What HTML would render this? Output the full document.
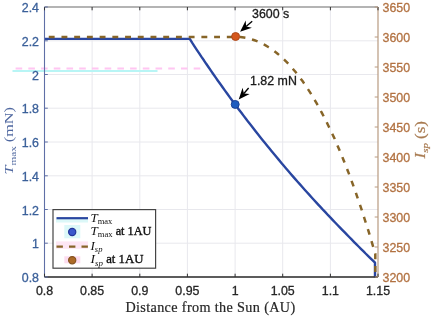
<!DOCTYPE html>
<html><head><meta charset="utf-8"><style>
html,body{margin:0;padding:0;background:#fff;}
svg{display:block;filter:blur(0.4px);}
.s{font-family:"Liberation Sans",sans-serif;font-size:12.4px;stroke-width:0.3px;}
.m{font-family:"Liberation Serif",serif;font-size:13px;}
</style></head><body>
<svg width="433" height="317" viewBox="0 0 433 317">
<rect x="0" y="0" width="433" height="317" fill="#fff"/>
<line x1="92.1" y1="7.0" x2="92.1" y2="277.0" stroke="#e8e8ed" stroke-width="1"/>
<line x1="139.8" y1="7.0" x2="139.8" y2="277.0" stroke="#e8e8ed" stroke-width="1"/>
<line x1="187.4" y1="7.0" x2="187.4" y2="277.0" stroke="#e8e8ed" stroke-width="1"/>
<line x1="235.1" y1="7.0" x2="235.1" y2="277.0" stroke="#e8e8ed" stroke-width="1"/>
<line x1="282.7" y1="7.0" x2="282.7" y2="277.0" stroke="#e8e8ed" stroke-width="1"/>
<line x1="330.4" y1="7.0" x2="330.4" y2="277.0" stroke="#e8e8ed" stroke-width="1"/>
<line x1="44.5" y1="243.2" x2="378.0" y2="243.2" stroke="#e8e8ed" stroke-width="1"/>
<line x1="44.5" y1="209.5" x2="378.0" y2="209.5" stroke="#e8e8ed" stroke-width="1"/>
<line x1="44.5" y1="175.8" x2="378.0" y2="175.8" stroke="#e8e8ed" stroke-width="1"/>
<line x1="44.5" y1="142.0" x2="378.0" y2="142.0" stroke="#e8e8ed" stroke-width="1"/>
<line x1="44.5" y1="108.2" x2="378.0" y2="108.2" stroke="#e8e8ed" stroke-width="1"/>
<line x1="44.5" y1="74.5" x2="378.0" y2="74.5" stroke="#e8e8ed" stroke-width="1"/>
<line x1="44.5" y1="40.8" x2="378.0" y2="40.8" stroke="#e8e8ed" stroke-width="1"/>
<line x1="12.5" y1="71" x2="157.5" y2="71" stroke="#b8f5f5" stroke-width="2"/>
<line x1="12.5" y1="68.6" x2="204" y2="68.6" stroke="#ffc6f2" stroke-width="2" stroke-dasharray="6.6 6.12" stroke-dashoffset="-3.1"/>
<polyline points="44.5,38.9 189.8,38.9 192.1,42.7 194.5,46.3 196.8,49.8 199.2,53.4 201.5,56.9 203.9,60.3 206.2,63.8 208.6,67.2 210.9,70.6 213.2,74.0 215.6,77.4 217.9,80.7 220.3,84.0 222.6,87.3 225.0,90.6 227.3,93.8 229.7,97.1 232.0,100.3 234.3,103.4 236.7,106.6 239.0,109.7 241.4,112.8 243.7,115.9 246.1,119.0 248.4,122.1 250.8,125.1 253.1,128.1 255.4,131.1 257.8,134.1 260.1,137.0 262.5,139.9 264.8,142.8 267.2,145.7 269.5,148.6 271.9,151.5 274.2,154.3 276.5,157.1 278.9,159.9 281.2,162.7 283.6,165.5 285.9,168.2 288.3,171.0 290.6,173.7 292.9,176.4 295.3,179.1 297.6,181.7 300.0,184.4 302.3,187.0 304.7,189.7 307.0,192.3 309.4,194.9 311.7,197.5 314.0,200.0 316.4,202.6 318.7,205.1 321.1,207.6 323.4,210.2 325.8,212.7 328.1,215.2 330.5,217.6 332.8,220.1 335.1,222.5 337.5,225.0 339.8,227.4 342.2,229.8 344.5,232.2 346.9,234.6 349.2,237.0 351.6,239.4 353.9,241.8 356.2,244.1 358.6,246.5 360.9,248.8 363.3,251.1 365.6,253.5 368.0,255.8 370.3,258.1 372.7,260.4 375.0,262.7 375.0,277.5" fill="none" stroke="#2946a0" stroke-width="2.4" stroke-linejoin="round"/>
<polyline points="44.5,36.9 235.0,36.9 236.8,36.9 238.6,37.0 240.3,37.1 242.1,37.3 243.9,37.6 245.7,37.9 247.4,38.2 249.2,38.7 251.0,39.1 252.8,39.7 254.5,40.3 256.3,40.9 258.1,41.6 259.9,42.4 261.6,43.3 263.4,44.2 265.2,45.1 267.0,46.2 268.7,47.3 270.5,48.4 272.3,49.6 274.1,50.9 275.8,52.3 277.6,53.7 279.4,55.2 281.2,56.8 283.0,58.4 284.7,60.1 286.5,61.9 288.3,63.7 290.1,65.6 291.8,67.6 293.6,69.7 295.4,71.8 297.2,74.0 298.9,76.3 300.7,78.7 302.5,81.1 304.3,83.6 306.0,86.2 307.8,88.9 309.6,91.6 311.4,94.4 313.1,97.4 314.9,100.3 316.7,103.4 318.5,106.5 320.2,109.8 322.0,113.1 323.8,116.5 325.6,120.0 327.3,123.5 329.1,127.2 330.9,130.9 332.7,134.7 334.5,138.6 336.2,142.6 338.0,146.7 339.8,150.9 341.6,155.1 343.3,159.5 345.1,163.9 346.9,168.5 348.7,173.1 350.4,177.8 352.2,182.6 354.0,187.5 355.8,192.5 357.5,197.6 359.3,202.8 361.1,208.1 362.9,213.5 364.6,219.0 366.4,224.5 368.2,230.2 370.0,236.0 371.7,241.9 373.5,247.8 375.3,253.9 375.3,277.5" fill="none" stroke="#876528" stroke-width="2.5" stroke-dasharray="5.9 6.82" stroke-dashoffset="-4.25"/>
<circle cx="235.2" cy="104.4" r="4" fill="#1f5cbf" stroke="#1a3c8e" stroke-width="0.9"/>
<circle cx="235.6" cy="36.5" r="4" fill="#d4561c" stroke="#a84414" stroke-width="0.9"/>
<line x1="44.5" y1="7.0" x2="378.0" y2="7.0" stroke="#6b6b6b" stroke-width="1.2"/>
<line x1="44.5" y1="277.0" x2="378.0" y2="277.0" stroke="#262626" stroke-width="1.6"/>
<line x1="44.5" y1="7.0" x2="44.5" y2="277.0" stroke="#5f6fa6" stroke-width="1.1"/>
<line x1="378.0" y1="7.0" x2="378.0" y2="277.0" stroke="#b89a80" stroke-width="1.2"/>
<line x1="44.5" y1="277.0" x2="44.5" y2="273.7" stroke="#333" stroke-width="1"/>
<line x1="44.5" y1="7.0" x2="44.5" y2="10.3" stroke="#333" stroke-width="1"/>
<line x1="92.1" y1="277.0" x2="92.1" y2="273.7" stroke="#333" stroke-width="1"/>
<line x1="92.1" y1="7.0" x2="92.1" y2="10.3" stroke="#333" stroke-width="1"/>
<line x1="139.8" y1="277.0" x2="139.8" y2="273.7" stroke="#333" stroke-width="1"/>
<line x1="139.8" y1="7.0" x2="139.8" y2="10.3" stroke="#333" stroke-width="1"/>
<line x1="187.4" y1="277.0" x2="187.4" y2="273.7" stroke="#333" stroke-width="1"/>
<line x1="187.4" y1="7.0" x2="187.4" y2="10.3" stroke="#333" stroke-width="1"/>
<line x1="235.1" y1="277.0" x2="235.1" y2="273.7" stroke="#333" stroke-width="1"/>
<line x1="235.1" y1="7.0" x2="235.1" y2="10.3" stroke="#333" stroke-width="1"/>
<line x1="282.7" y1="277.0" x2="282.7" y2="273.7" stroke="#333" stroke-width="1"/>
<line x1="282.7" y1="7.0" x2="282.7" y2="10.3" stroke="#333" stroke-width="1"/>
<line x1="330.4" y1="277.0" x2="330.4" y2="273.7" stroke="#333" stroke-width="1"/>
<line x1="330.4" y1="7.0" x2="330.4" y2="10.3" stroke="#333" stroke-width="1"/>
<line x1="378.0" y1="277.0" x2="378.0" y2="273.7" stroke="#333" stroke-width="1"/>
<line x1="378.0" y1="7.0" x2="378.0" y2="10.3" stroke="#333" stroke-width="1"/>
<line x1="44.5" y1="277.0" x2="47.8" y2="277.0" stroke="#5f6fa6" stroke-width="1"/>
<line x1="44.5" y1="243.2" x2="47.8" y2="243.2" stroke="#5f6fa6" stroke-width="1"/>
<line x1="44.5" y1="209.5" x2="47.8" y2="209.5" stroke="#5f6fa6" stroke-width="1"/>
<line x1="44.5" y1="175.8" x2="47.8" y2="175.8" stroke="#5f6fa6" stroke-width="1"/>
<line x1="44.5" y1="142.0" x2="47.8" y2="142.0" stroke="#5f6fa6" stroke-width="1"/>
<line x1="44.5" y1="108.2" x2="47.8" y2="108.2" stroke="#5f6fa6" stroke-width="1"/>
<line x1="44.5" y1="74.5" x2="47.8" y2="74.5" stroke="#5f6fa6" stroke-width="1"/>
<line x1="44.5" y1="40.8" x2="47.8" y2="40.8" stroke="#5f6fa6" stroke-width="1"/>
<line x1="44.5" y1="7.0" x2="47.8" y2="7.0" stroke="#5f6fa6" stroke-width="1"/>
<line x1="378.0" y1="277.0" x2="374.7" y2="277.0" stroke="#b89a80" stroke-width="1"/>
<line x1="378.0" y1="247.0" x2="374.7" y2="247.0" stroke="#b89a80" stroke-width="1"/>
<line x1="378.0" y1="217.0" x2="374.7" y2="217.0" stroke="#b89a80" stroke-width="1"/>
<line x1="378.0" y1="187.0" x2="374.7" y2="187.0" stroke="#b89a80" stroke-width="1"/>
<line x1="378.0" y1="157.0" x2="374.7" y2="157.0" stroke="#b89a80" stroke-width="1"/>
<line x1="378.0" y1="127.0" x2="374.7" y2="127.0" stroke="#b89a80" stroke-width="1"/>
<line x1="378.0" y1="97.0" x2="374.7" y2="97.0" stroke="#b89a80" stroke-width="1"/>
<line x1="378.0" y1="67.0" x2="374.7" y2="67.0" stroke="#b89a80" stroke-width="1"/>
<line x1="378.0" y1="37.0" x2="374.7" y2="37.0" stroke="#b89a80" stroke-width="1"/>
<line x1="378.0" y1="7.0" x2="374.7" y2="7.0" stroke="#b89a80" stroke-width="1"/>
<text x="44.5" y="295.4" text-anchor="middle" class="s" fill="#262626" stroke="#262626">0.8</text>
<text x="92.1" y="295.4" text-anchor="middle" class="s" fill="#262626" stroke="#262626">0.85</text>
<text x="139.8" y="295.4" text-anchor="middle" class="s" fill="#262626" stroke="#262626">0.9</text>
<text x="187.4" y="295.4" text-anchor="middle" class="s" fill="#262626" stroke="#262626">0.95</text>
<text x="235.1" y="295.4" text-anchor="middle" class="s" fill="#262626" stroke="#262626">1</text>
<text x="282.7" y="295.4" text-anchor="middle" class="s" fill="#262626" stroke="#262626">1.05</text>
<text x="330.4" y="295.4" text-anchor="middle" class="s" fill="#262626" stroke="#262626">1.1</text>
<text x="378.0" y="295.4" text-anchor="middle" class="s" fill="#262626" stroke="#262626">1.15</text>
<text x="39" y="282.0" text-anchor="end" class="s" fill="#3b609a" stroke="#3b609a">0.8</text>
<text x="39" y="248.2" text-anchor="end" class="s" fill="#3b609a" stroke="#3b609a">1</text>
<text x="39" y="214.5" text-anchor="end" class="s" fill="#3b609a" stroke="#3b609a">1.2</text>
<text x="39" y="180.8" text-anchor="end" class="s" fill="#3b609a" stroke="#3b609a">1.4</text>
<text x="39" y="147.0" text-anchor="end" class="s" fill="#3b609a" stroke="#3b609a">1.6</text>
<text x="39" y="113.2" text-anchor="end" class="s" fill="#3b609a" stroke="#3b609a">1.8</text>
<text x="39" y="79.5" text-anchor="end" class="s" fill="#3b609a" stroke="#3b609a">2</text>
<text x="39" y="45.8" text-anchor="end" class="s" fill="#3b609a" stroke="#3b609a">2.2</text>
<text x="39" y="12.0" text-anchor="end" class="s" fill="#3b609a" stroke="#3b609a">2.4</text>
<text x="382.5" y="281.8" class="s" fill="#b27242" stroke="#b27242">3200</text>
<text x="382.5" y="251.8" class="s" fill="#b27242" stroke="#b27242">3250</text>
<text x="382.5" y="221.8" class="s" fill="#b27242" stroke="#b27242">3300</text>
<text x="382.5" y="191.8" class="s" fill="#b27242" stroke="#b27242">3350</text>
<text x="382.5" y="161.8" class="s" fill="#b27242" stroke="#b27242">3400</text>
<text x="382.5" y="131.8" class="s" fill="#b27242" stroke="#b27242">3450</text>
<text x="382.5" y="101.8" class="s" fill="#b27242" stroke="#b27242">3500</text>
<text x="382.5" y="71.8" class="s" fill="#b27242" stroke="#b27242">3550</text>
<text x="382.5" y="41.8" class="s" fill="#b27242" stroke="#b27242">3600</text>
<text x="382.5" y="11.8" class="s" fill="#b27242" stroke="#b27242">3650</text>
<text x="125.4" y="311.6" class="m" style="font-size:14.2px" textLength="169.8" lengthAdjust="spacing" fill="#262626" stroke="#262626" stroke-width="0.2">Distance from the Sun (AU)</text>
<text transform="translate(13.4,174.6) rotate(-90)" class="m" textLength="67.6" lengthAdjust="spacingAndGlyphs" fill="#5068a0"><tspan font-style="italic">T</tspan><tspan font-size="9" dy="2.5">max</tspan><tspan dy="-2.5"> (mN)</tspan></text>
<text transform="translate(425,158.5) rotate(-90)" class="m" style="font-size:14px" textLength="37.5" lengthAdjust="spacingAndGlyphs" fill="#a87a50" stroke="#a87a50" stroke-width="0.2"><tspan font-style="italic">I</tspan><tspan font-size="9" dy="2.5" font-style="italic">sp</tspan><tspan dy="-2.5"> (s)</tspan></text>
<text x="252" y="18.4" class="s" fill="#1a1a1a" stroke="#1a1a1a">3600 s</text>
<text x="250" y="85.3" class="s" fill="#1a1a1a" stroke="#1a1a1a">1.82 mN</text>
<line x1="252.2" y1="21.2" x2="246.1" y2="26.5" stroke="#000" stroke-width="1.3"/><path d="M240.1,31.7 L245.7,20.6 L246.1,26.5 L251.9,27.7 Z" fill="#000"/>
<line x1="248.6" y1="88.0" x2="243.9" y2="93.5" stroke="#000" stroke-width="1.3"/><path d="M238.7,99.6 L242.6,87.8 L243.9,93.5 L249.7,93.9 Z" fill="#000"/>
<rect x="53" y="209.6" width="102.6" height="58.6" fill="#fff" stroke="#454545" stroke-width="1.2"/>
<rect x="56" y="218.5" width="32" height="4" fill="#dcf8f8"/>
<rect x="64.3" y="225" width="16" height="13.3" fill="#dcf8f8"/>
<rect x="56" y="241.4" width="32" height="7.4" fill="#fde6f4"/>
<rect x="64.3" y="256.3" width="16" height="7" fill="#fcdcef"/>
<line x1="56.5" y1="218.2" x2="88" y2="218.2" stroke="#2946a0" stroke-width="2.2"/>
<circle cx="72.2" cy="232" r="3.6" fill="#3a58cc" stroke="#22359a" stroke-width="1.2"/>
<line x1="56.5" y1="246.6" x2="88" y2="246.6" stroke="#876528" stroke-width="2.4" stroke-dasharray="6.4 6.1"/>
<circle cx="72.2" cy="260.2" r="3.6" fill="#ad6a26" stroke="#855420" stroke-width="1.2"/>
<text x="90.5" y="221.5" class="m" fill="#111" ><tspan font-style="italic">T</tspan><tspan font-size="8.5" dy="2.2" >max</tspan><tspan dy="-2.2" font-size="12.2" stroke="#111" stroke-width="0.35"></tspan></text>
<text x="90.5" y="235.2" class="m" fill="#111" textLength="61" lengthAdjust="spacingAndGlyphs"><tspan font-style="italic">T</tspan><tspan font-size="8.5" dy="2.2" >max</tspan><tspan dy="-2.2" font-size="12.2" stroke="#111" stroke-width="0.35"> at 1AU</tspan></text>
<text x="90.5" y="249.5" class="m" fill="#111" ><tspan font-style="italic">I</tspan><tspan font-size="8.5" dy="2.2" font-style="italic">sp</tspan><tspan dy="-2.2" font-size="12.2" stroke="#111" stroke-width="0.35"></tspan></text>
<text x="90.5" y="263.3" class="m" fill="#111" textLength="53" lengthAdjust="spacingAndGlyphs"><tspan font-style="italic">I</tspan><tspan font-size="8.5" dy="2.2" font-style="italic">sp</tspan><tspan dy="-2.2" font-size="12.2" stroke="#111" stroke-width="0.35"> at 1AU</tspan></text>
</svg></body></html>
